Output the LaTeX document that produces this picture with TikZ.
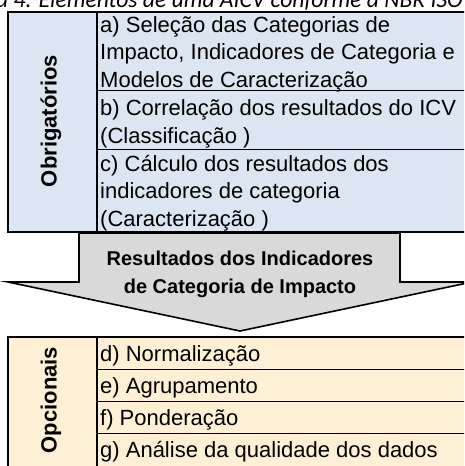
\documentclass[tikz,border=0pt]{standalone}
\usepackage{fontspec}
\setmainfont{Liberation Sans}
\newfontfamily\capfont{Carlito}
\definecolor{obrblue}{HTML}{DCE6F2}
\definecolor{opcream}{HTML}{FEF0D5}
\definecolor{arrgray}{HTML}{D9D9D9}
\tikzset{
  celltext/.style={anchor=base west, inner sep=0pt, align=left,
    font=\fontsize{22}{27.5}\selectfont},
  sidelabel/.style={rotate=90, inner sep=0pt, font=\bfseries\fontsize{22}{26}\selectfont},
  outerline/.style={line width=1.6pt},
  rowline/.style={line width=0.9pt}
}
\begin{document}
\begin{tikzpicture}[x=1pt, y=-1pt]
  \useasboundingbox (0,0) rectangle (464,466);
  \clip (0,0) rectangle (464,466);
  % Caption (cut at the top)
  \node[anchor=base west, inner sep=0pt, font=\capfont\itshape\fontsize{23.6}{24}\selectfont] (caption) at (-4,7.5)
    {a 4. Elementos de uma AICV conforme a NBR ISO};
  % Mandatory elements
  \draw[outerline, fill=obrblue] (8,12) rectangle (472,232);
  \draw[outerline] (97,12) -- (97,232);
  \draw[rowline] (97,90) -- (472,90);
  \draw[rowline] (97,149) -- (472,149);
  \node[sidelabel] (obrig) at (51,121) {Obrigatórios};
  \node[celltext] (sel) at (100,87) {a) Seleção das Categorias de\\Impacto, Indicadores de Categoria e\\Modelos de Caracterização};
  \node[celltext] (cla) at (100,143) {b) Correlação dos resultados do ICV\\(Classificação )};
  \node[celltext] (car) at (100,226) {c) Cálculo dos resultados dos\\indicadores de categoria\\(Caracterização )};
  % Arrow
  \draw[outerline, fill=arrgray] (79,233) -- (400,233) -- (400,282) -- (472,282)
    -- (240,331) -- (8,282) -- (79,282) -- cycle;
  \node[align=center, inner sep=0pt, anchor=base, font=\bfseries\fontsize{20}{28}\selectfont] (result) at (240,293)
    {Resultados dos Indicadores\\de Categoria de Impacto};
  % Optional elements
  \draw[outerline, fill=opcream] (8,337) rectangle (472,472);
  \draw[outerline] (97,337) -- (97,472);
  \foreach \ry in {369,401,433}
    \draw[rowline] (97,\ry) -- (472,\ry);
  \node[sidelabel] (opc) at (51,400) {Opcionais};
  \node[celltext] (nor) at (100,361) {d) Normalização};
  \node[celltext] (agr) at (100,393) {e) Agrupamento};
  \node[celltext] (pon) at (100,425) {f) Ponderação};
  \node[celltext] (qua) at (100,457) {g) Análise da qualidade dos dados};
\end{tikzpicture}
\end{document}
